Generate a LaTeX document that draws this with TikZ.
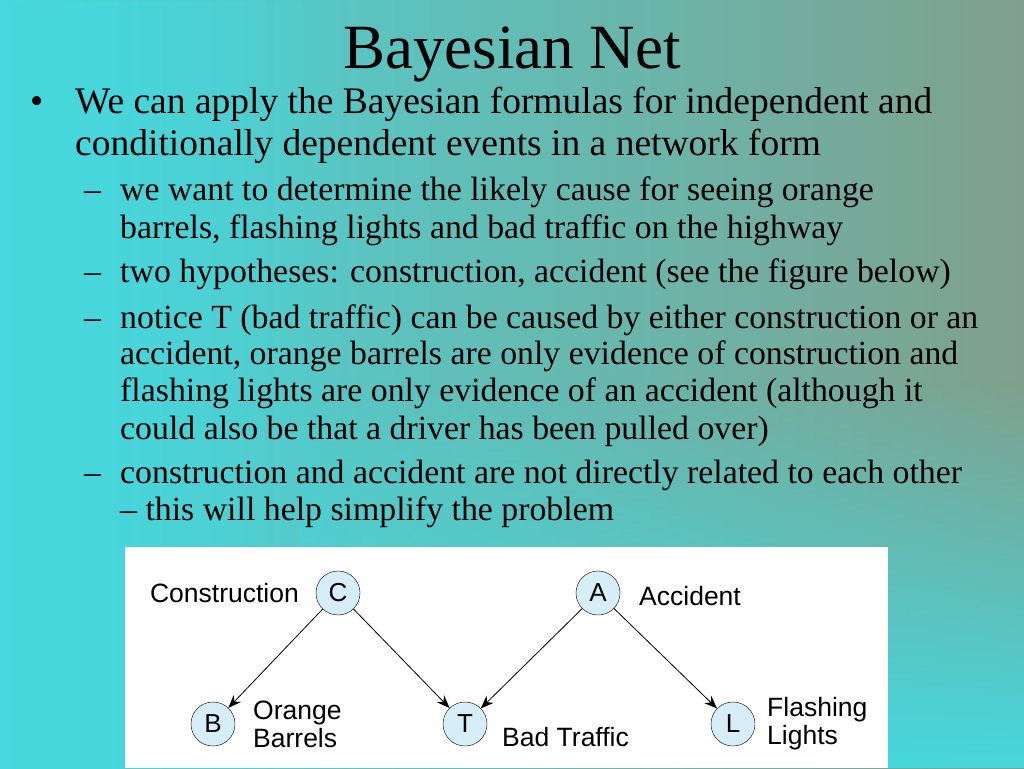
\documentclass[tikz,border=0pt]{standalone}
\usepackage{fontspec}
\setmainfont{Liberation Serif}
\newfontfamily\diagfont{Liberation Sans}
\usetikzlibrary{fadings,arrows.meta}
\definecolor{bgcyan}{RGB}{70,216,222}
\definecolor{bggreen}{RGB}{128,160,140}
\definecolor{nodefill}{RGB}{214,238,248}
\tikzset{
  line/.style={anchor=base west,inner sep=0pt,font=\fontsize{37.5}{40}\selectfont},
  sline/.style={anchor=base west,inner sep=0pt,font=\fontsize{33.8}{36}\selectfont},
  bn/.style={circle,draw=black,fill=nodefill,minimum size=44pt,inner sep=0pt,font=\diagfont\fontsize{26}{28}\selectfont},
  lab/.style={font=\diagfont\fontsize{26.5}{28}\selectfont,align=left,inner sep=0pt},
  arr/.style={-{Stealth[length=13pt,width=10pt]},line width=0.8pt}
}
\begin{document}
\begin{tikzpicture}[x=1pt,y=-1pt]
\useasboundingbox (0,0) rectangle (1024,768);
\shade[left color=bgcyan,right color=bggreen] (0,0) rectangle (1024,768);
\fill[bgcyan,path fading=north] (300,380) rectangle (1024,768);
\fill[bgcyan,path fading=east] (0,0) rectangle (350,768);
\node[anchor=base,inner sep=0pt,font=\fontsize{63}{66}\selectfont] (title) at (512,68) {Bayesian Net};
\node[line] (b1) at (30,113) {•};
\node[line] (l1) at (75,113) {We can apply the Bayesian formulas for independent and};
\node[line] (l2) at (75,155) {conditionally dependent events in a network form};
\node[sline] (d1) at (84,200) {–};
\node[sline] (s1) at (120,200) {we want to determine the likely cause for seeing orange};
\node[sline] (s2) at (120,238) {barrels, flashing lights and bad traffic on the highway};
\node[sline] (d2) at (84,282) {–};
\node[sline] (s3) at (120,282) {two hypotheses: construction, accident (see the figure below)};
\node[sline] (d3) at (84,328) {–};
\node[sline] (s4) at (120,328) {notice T (bad traffic) can be caused by either construction or an};
\node[sline] (s5) at (120,364) {accident, orange barrels are only evidence of construction and};
\node[sline] (s6) at (120,401) {flashing lights are only evidence of an accident (although it};
\node[sline] (s7) at (120,439) {could also be that a driver has been pulled over)};
\node[sline] (d4) at (84,483) {–};
\node[sline] (s8) at (120,483) {construction and accident are not directly related to each other};
\node[sline] (s9) at (120,520) {– this will help simplify the problem};
\fill[white] (125,547) rectangle (888,768);
\node[bn] (C) at (338,593) {C};
\node[bn] (A) at (598,593) {A};
\node[bn] (B) at (213,724) {B};
\node[bn] (T) at (465,724) {T};
\node[bn] (L) at (733,724) {L};
\node[lab,anchor=east] (lc) at (299,593) {Construction};
\node[lab,anchor=west] (la) at (639,596) {Accident};
\node[lab,anchor=west] (lb) at (253,724) {Orange\\Barrels};
\node[lab,anchor=west] (lt) at (502,737) {Bad Traffic};
\node[lab,anchor=west] (ll) at (767,724) {Flashing\\Lights};
\draw[arr] (C) -- (B);
\draw[arr] (C) -- (T);
\draw[arr] (A) -- (T);
\draw[arr] (A) -- (L);
\end{tikzpicture}
\end{document}
